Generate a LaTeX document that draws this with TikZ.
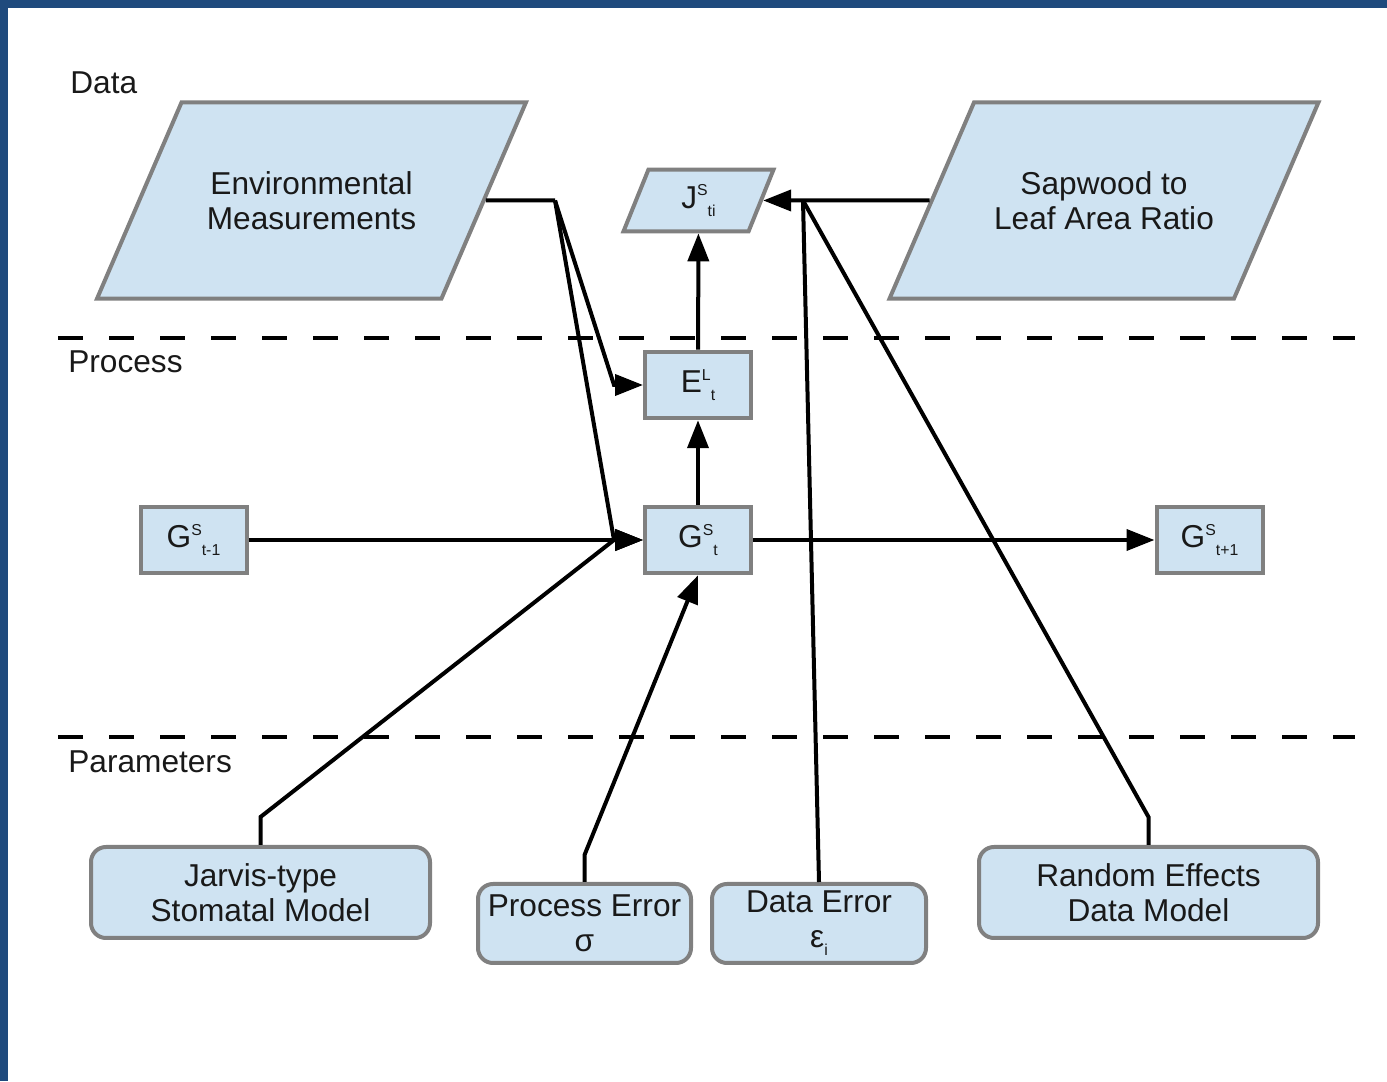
\documentclass[tikz,border=0pt]{standalone}
\usepackage{fontspec}
\setmainfont{Liberation Sans}
\usetikzlibrary{arrows.meta,shapes.geometric}

\newcommand{\supsub}[3]{#1\raisebox{0.4em}{\fontsize{9}{9}\selectfont #2}\raisebox{-0.25em}{\fontsize{9}{9}\selectfont #3}}

\begin{document}
\begin{tikzpicture}[
  font=\fontsize{18}{20}\selectfont,
  databox/.style={trapezium,trapezium stretches body,draw=cdraw,fill=cfill,line width=0.08cm,text=ctext,align=center},
  procbox/.style={rectangle,draw=cdraw,fill=cfill,line width=0.08cm,text=ctext,minimum width=2.12cm,minimum height=1.33cm},
  parbox/.style={rectangle,rounded corners=0.3cm,draw=cdraw,fill=cfill,line width=0.08cm,text=ctext,align=center},
  link/.style={line width=0.08cm,draw=black},
  arc/.style={link,-{Triangle[length=0.56cm,width=0.42cm]}},
  layerline/.style={line width=0.09cm,dash pattern=on 0.5cm off 0.52cm},
  layerlabel/.style={anchor=west,text=ctext,inner sep=0pt}
]
%
\useasboundingbox (0,0) rectangle (27.74,21.62);
%
\definecolor{cbar}{rgb}{0.12,0.29,0.49}
\definecolor{cfill}{rgb}{0.81,0.89,0.95}
\definecolor{cdraw}{rgb}{0.5,0.5,0.5}
\definecolor{ctext}{rgb}{0.1,0.1,0.1}
%
\fill[cbar] (0,0) rectangle (0.16,21.62);
\fill[cbar] (0,21.46) rectangle (27.74,21.62);
%
\draw[layerline] (1.16,14.86) -- (27.10,14.86);
\draw[layerline] (1.16,6.88) -- (27.10,6.88);
\node[layerlabel] (ldata) at (1.40,19.96) {Data};
\node[layerlabel] (lproc) at (1.36,14.38) {Process};
\node[layerlabel] (lpar) at (1.36,6.38) {Parameters};
%
\node[databox,trapezium left angle=66.7,trapezium right angle=113.3,inner ysep=1.38cm,minimum width=8.58cm,minimum height=3.86cm] (env) at (6.23,17.61) {Environmental\\Measurements};
\node[databox,trapezium left angle=66.7,trapezium right angle=113.3,inner ysep=1.38cm,minimum width=8.58cm,minimum height=3.86cm] (sap) at (22.08,17.61) {Sapwood to\\Leaf Area Ratio};
\node[databox,trapezium left angle=68,trapezium right angle=112,inner ysep=0.3cm,minimum width=3.0cm,minimum height=1.22cm] (js) at (13.97,17.61) {\supsub{J}{S}{ti}};
%
\node[procbox] (el) at (13.96,13.92) {\supsub{E}{L}{t}};
\node[procbox] (gt) at (13.96,10.82) {\supsub{G}{S}{t}};
\node[procbox] (gtm) at (3.87,10.82) {\supsub{G}{S}{t-1}};
\node[procbox] (gtp) at (24.19,10.82) {\supsub{G}{S}{t+1}};
%
\node[parbox,minimum width=6.78cm,minimum height=1.82cm] (jarvis) at (5.21,3.77) {Jarvis-type\\Stomatal Model};
\node[parbox,minimum width=4.26cm,minimum height=1.58cm] (perr) at (11.69,3.15) {Process Error\\σ};
\node[parbox,minimum width=4.28cm,minimum height=1.58cm] (derr) at (16.38,3.15) {Data Error\\\supsub{ε}{}{i}};
\node[parbox,minimum width=6.78cm,minimum height=1.82cm] (rand) at (22.97,3.77) {Random Effects\\Data Model};
%
\coordinate (ja) at (11.10,17.61);
\coordinate (eb) at (12.28,13.92);
\coordinate (gb) at (12.28,10.82);
\coordinate (jb) at (16.06,17.61);
\coordinate (jk) at (5.21,5.28);
\coordinate (pk) at (11.69,4.52);
\coordinate (rk) at (22.97,5.28);
%
\draw[link] (env.east) -- (ja);
\draw[arc] (ja) -- (eb) -- (el.west);
\draw[arc] (ja) -- (gb) -- (gt.west);
\draw[arc] (jarvis.north) -- (jk) -- (gb) -- (gt.west);
\draw[arc] (gtm) -- (gt);
\draw[arc] (gt) -- (gtp);
\draw[arc] (gt) -- (el);
\draw[arc] (el) -- (js);
\draw[arc] (perr.north) -- (pk) -- (gt.south);
\draw[arc] (sap.west) -- (js.east);
\draw[link] (derr.north) -- (jb);
\draw[link] (rand.north) -- (rk) -- (jb);
%
\end{tikzpicture}
\end{document}
